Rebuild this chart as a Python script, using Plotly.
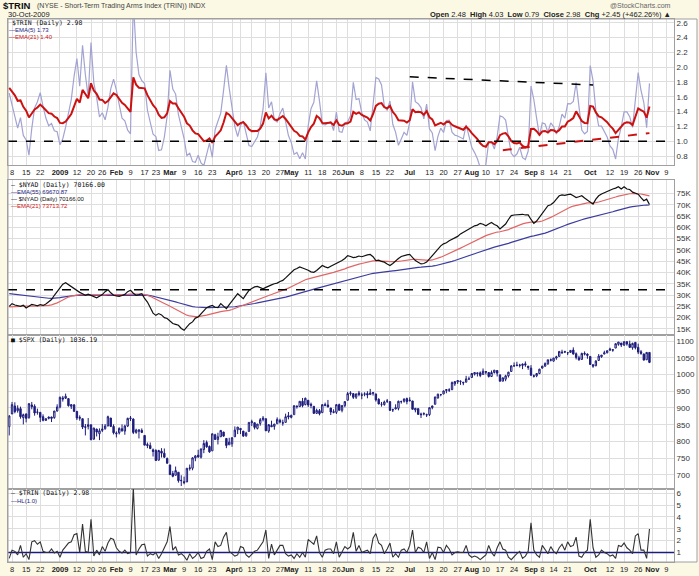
import plotly.graph_objects as go

# ---------------- data (trading-day index 0 = 5-Dec-2008 ... 227 = 30-Oct-2009) ----------------
tick_idx = [1, 6, 11, 18, 24, 29, 33, 38, 43, 48, 52, 57, 62, 67, 72, 79, 82, 86, 91, 96,
            100, 106, 111, 116, 120, 125, 130, 135, 142, 149, 154, 159, 164, 169, 174, 179,
            185, 189, 193, 198, 206, 213, 218, 223, 228, 233]
tick_txt = ["8", "15", "22", "<b>2009</b>", "12", "20", "26", "<b>Feb</b>", "9", "17", "23",
            "<b>Mar</b>", "9", "16", "23", "<b>Apr</b>", "6", "13", "20", "27", "<b>May</b>",
            "11", "18", "26", "<b>Jun</b>", "8", "15", "22", "<b>Jul</b>", "13", "20", "27",
            "<b>Aug</b>", "10", "17", "24", "<b>Sep</b>", "8", "14", "21", "<b>Oct</b>", "12",
            "19", "26", "<b>Nov</b>", "9"]

trin = [0.5, 1.2, 1.1, 0.8, 1.6, 0.6, 0.9, 0.4, 1.9, 2.0,
        1.7, 1.9, 1.1, 1.0, 1.0, 1.3, 0.95, 1.1, 0.6, 1.2,
        1.5, 1.8, 1.9, 2.5, 2.6, 1.0, 3.4, 1.1, 1.0, 3.8,
        0.7, 1.2, 0.8, 1.5, 1.1, 1.8, 2.2, 2.1, 1.4, 1.1,
        0.95, 1.2, 0.9, 1.0, 6.5, 0.8, 1.3, 1.65, 1.7, 0.7,
        0.9, 0.8, 1.0, 0.5, 0.9, 1.4, 1.9, 3.2, 1.2, 1.5,
        0.8, 0.9, 0.7, 0.35, 0.9, 0.5, 0.7, 1.0, 0.5, 0.6,
        1.1, 1.3, 0.4, 1.9, 1.5, 1.6, 2.3, 2.7, 1.1, 0.9,
        0.7, 0.8, 1.5, 1.4, 0.8, 0.6, 0.9, 1.1, 1.2, 1.5,
        1.9, 2.9, 0.5, 1.7, 0.8, 1.2, 1.6, 1.6, 0.9, 0.7,
        0.8, 0.5, 0.9, 0.6, 1.0, 0.6, 2.1, 1.9, 1.7, 2.4,
        1.0, 0.6, 1.2, 1.3, 1.3, 0.9, 1.9, 0.6, 1.1, 1.5,
        1.3, 1.5, 2.7, 1.1, 1.6, 1.0, 1.1, 1.2, 0.9, 2.2,
        2.6, 1.8, 1.6, 0.9, 1.3, 1.8, 0.6, 0.9, 0.6, 1.2,
        1.3, 1.0, 1.6, 2.9, 1.0, 1.45, 1.35, 1.0, 1.9, 0.5,
        1.0, 0.4, 1.45, 1.4, 1.0, 1.6, 1.3, 0.8, 1.0, 1.05,
        1.0, 1.0, 1.6, 0.8, 0.6, 0.7, 0.6, 0.4, 0.6, 0.8,
        1.6, 1.0, 0.7, 1.4, 1.9, 1.3, 1.2, 0.6, 0.4, 0.7,
        0.9, 1.1, 0.5, 0.7, 1.1, 3.5, 1.2, 0.8, 0.6, 1.6,
        1.2, 0.9, 1.5, 1.1, 0.9, 1.4, 1.7, 1.2, 1.9, 1.5,
        1.6, 2.3, 0.7, 0.6, 1.0, 1.2, 3.8, 1.4, 0.6, 0.8,
        1.2, 1.0, 0.9, 0.7, 0.8, 0.5, 1.6, 1.5, 1.8, 1.4,
        1.2, 0.9, 2.4, 2.6, 1.2, 1.2, 0.5, 2.98]

nyad_k = [25.0, 26.2, 25.6, 25.3, 25.0, 25.5, 24.3, 25.0, 25.9, 25.6,
          25.2, 25.8, 25.4, 26.0, 26.9, 28.0, 29.9, 31.5, 33.5, 34.8,
          35.5, 34.6, 33.8, 33.0, 32.1, 31.2, 30.6, 29.9, 30.4, 29.9,
          29.3, 28.8, 29.5, 30.2, 31.5, 32.4, 31.0, 29.9, 29.6, 29.4,
          29.8, 30.3, 31.5, 32.1, 30.8, 29.9, 30.2, 30.6, 28.5, 26.9,
          24.5, 22.0, 21.0, 21.8, 21.2, 20.0, 19.6, 18.5, 17.4, 17.0,
          16.6, 15.2, 14.4, 15.9, 17.3, 18.1, 19.8, 20.3, 21.8, 23.0,
          24.4, 25.0, 25.4, 24.6, 24.4, 26.2, 25.0, 24.0, 25.8, 27.6,
          29.0, 30.6, 29.4, 28.4, 30.3, 32.1, 32.9, 33.6, 33.8, 33.2,
          32.8, 33.4, 33.8, 34.5, 35.0, 35.3, 36.0, 36.5, 37.6, 38.7,
          40.0, 41.2, 41.8, 42.5, 42.0, 41.6, 41.0, 40.3, 40.1, 40.9,
          42.0, 43.1, 42.5, 42.1, 42.8, 43.4, 43.8, 44.5, 45.3, 46.2,
          47.5, 47.1, 46.6, 46.8, 47.3, 47.0, 47.5, 47.8, 48.0, 47.0,
          45.3, 45.5, 44.9, 44.6, 43.8, 43.1, 44.0, 45.3, 46.2, 47.1,
          47.6, 47.8, 48.0, 46.5, 45.3, 44.5, 43.8, 44.0, 44.6, 46.0,
          47.5, 49.0, 50.5, 51.8, 52.7, 53.2, 54.1, 54.8, 55.6, 56.0,
          57.1, 57.8, 58.6, 59.3, 60.0, 60.7, 61.0, 61.8, 61.4, 60.7,
          61.5, 62.2, 61.3, 60.7, 59.3, 60.5, 61.5, 63.5, 65.2, 65.5,
          65.6, 65.9, 65.8, 65.5, 65.5, 63.5, 61.8, 62.8, 64.4, 66.0,
          67.8, 69.6, 70.0, 71.0, 72.5, 74.0, 74.4, 74.2, 74.5, 74.7,
          74.0, 73.2, 73.6, 74.0, 73.0, 72.1, 71.0, 70.3, 72.5, 74.0,
          74.8, 75.4, 76.0, 76.5, 77.0, 77.4, 78.0, 77.0, 78.0, 77.0,
          76.8, 75.6, 75.0, 74.7, 73.2, 71.8, 72.5, 70.166]

spx_open = [844, 882, 906, 892, 898, 871, 882, 871, 909, 905, 887, 887, 874, 863, 869, 873, 871, 891,
            903, 930, 929, 928, 905, 909, 890, 869, 868, 842, 845, 850, 807, 837, 823, 833, 838, 846, 870, 845,
            823, 826, 838, 831, 846, 868, 867, 827, 830, 833, 818, 791, 788, 775, 773, 744, 771, 765, 749,
            730, 704, 699, 708, 684, 680, 679, 719, 720, 751, 759, 753, 776, 797, 785, 772, 820, 806, 814, 828, 809, 790,
            793, 814, 835, 839, 831, 817, 830, 856, 856, 839, 854, 865, 868, 831, 848, 845, 853, 863, 856, 857, 877,
            872, 880, 906, 904, 920, 910, 923, 911, 905, 884, 892, 886, 910, 909, 900, 889, 887, 910, 893, 907,
            923, 943, 943, 932, 945, 938, 941, 943, 940, 943, 942, 926, 911, 910, 920, 919, 894, 897, 899, 919, 920, 928,
            921, 921, 894, 898, 882, 882, 880, 880, 901, 911, 930, 940, 942, 952, 953, 955, 972, 978, 979, 977, 977, 986,
            991, 1001, 1005, 1005, 1000, 1009, 1006, 994, 1006, 1012, 999, 980, 986, 996, 1009, 1026, 1026, 1027, 1027, 1032, 1025,
            1019, 996, 996, 1003, 1019, 1025, 1032, 1044, 1040, 1049, 1054, 1067, 1067, 1065, 1066, 1073, 1062, 1050, 1045, 1063, 1061,
            1054, 1029, 1026, 1042, 1053, 1061, 1065, 1072, 1074, 1079, 1090, 1094, 1088, 1098, 1091, 1080, 1096, 1081, 1068, 1061, 1044, 1066]
spx_high = [879, 918, 917, 908, 904, 883, 884, 914, 918, 911, 898, 887, 881, 869, 874, 874, 891, 911,
            934, 936, 943, 928, 911, 912, 890, 878, 868, 852, 870, 850, 841, 838, 839, 852, 852, 877, 870, 851,
            830, 842, 851, 850, 871, 876, 869, 838, 835, 839, 818, 797, 797, 779, 777, 775, 780, 779, 752,
            730, 712, 725, 708, 699, 695, 720, 731, 753, 759, 775, 778, 804, 803, 788, 823, 823, 826, 833, 829, 809, 811,
            813, 845, 843, 839, 831, 829, 857, 865, 856, 852, 870, 876, 868, 852, 862, 852, 872, 868, 865, 883, 888,
            880, 907, 907, 920, 930, 931, 923, 916, 905, 898, 897, 910, 916, 924, 900, 896, 911, 913, 909, 920,
            948, 950, 943, 943, 951, 946, 947, 950, 957, 947, 942, 929, 918, 922, 927, 919, 898, 911, 922, 922, 928, 931,
            932, 921, 899, 899, 886, 887, 883, 901, 907, 933, 943, 942, 952, 956, 959, 979, 979, 983, 982, 977, 996, 994,
            1004, 1006, 1006, 1009, 1018, 1010, 1006, 1012, 1013, 1012, 999, 991, 999, 1008, 1027, 1036, 1038, 1032, 1033, 1039, 1025,
            1028, 1000, 1004, 1017, 1026, 1036, 1044, 1048, 1050, 1056, 1069, 1074, 1071, 1067, 1073, 1081, 1066, 1056, 1065, 1069, 1063,
            1054, 1031, 1043, 1061, 1058, 1071, 1072, 1080, 1076, 1093, 1097, 1094, 1099, 1099, 1101, 1095, 1096, 1092, 1073, 1063, 1066, 1066]
spx_low = [818, 882, 884, 886, 868, 851, 857, 868, 896, 877, 880, 858, 860, 861, 866, 858, 868, 889,
           899, 919, 927, 904, 897, 888, 864, 862, 837, 818, 836, 804, 805, 815, 804, 828, 835, 846, 843, 821,
           812, 821, 829, 820, 843, 861, 822, 823, 809, 825, 789, 780, 777, 755, 742, 744, 752, 751, 734,
           700, 693, 699, 677, 667, 672, 679, 713, 714, 741, 751, 749, 765, 781, 766, 772, 805, 791, 814, 814, 780, 790,
           784, 814, 822, 822, 814, 814, 830, 846, 836, 836, 847, 860, 831, 826, 843, 835, 853, 854, 847, 857, 866,
           869, 880, 898, 903, 902, 908, 903, 899, 882, 882, 878, 886, 905, 902, 879, 884, 882, 893, 887, 902,
           923, 937, 927, 927, 935, 926, 935, 929, 940, 937, 919, 911, 904, 907, 915, 891, 888, 896, 893, 913, 916, 911,
           920, 896, 887, 879, 870, 878, 873, 876, 896, 911, 928, 935, 941, 944, 948, 953, 966, 972, 969, 968, 977, 985,
           991, 997, 994, 992, 1000, 1000, 991, 993, 1003, 994, 979, 980, 980, 991, 1009, 1023, 1026, 1021, 1016, 1023, 1014,
           996, 991, 992, 1001, 1018, 1023, 1029, 1039, 1038, 1044, 1054, 1062, 1064, 1058, 1066, 1060, 1045, 1041, 1045, 1057, 1047,
           1029, 1020, 1025, 1042, 1050, 1061, 1063, 1072, 1068, 1079, 1086, 1082, 1085, 1086, 1080, 1074, 1075, 1061, 1059, 1042, 1044, 1034]
spx_close = [876, 910, 889, 899, 874, 880, 869, 913, 904, 885, 888, 872, 863, 868, 873, 869, 891, 903,
             932, 927, 935, 907, 910, 890, 870, 872, 843, 844, 850, 805, 840, 828, 832, 837, 846, 874, 845, 826,
             825, 839, 832, 846, 869, 870, 827, 834, 835, 827, 789, 788, 779, 770, 743, 773, 765, 753, 735,
             701, 696, 713, 683, 683, 677, 720, 721, 751, 757, 754, 778, 794, 784, 769, 823, 806, 814, 833, 816, 788, 798,
             811, 834, 843, 835, 816, 825, 857, 859, 842, 852, 865, 870, 832, 850, 844, 852, 866, 858, 855, 874, 873,
             878, 907, 904, 920, 907, 929, 909, 908, 884, 893, 883, 910, 908, 903, 888, 887, 910, 893, 907, 919,
             943, 945, 932, 942, 940, 939, 942, 939, 945, 946, 924, 912, 911, 918, 921, 893, 895, 901, 920, 919, 927, 919,
             923, 896, 899, 881, 880, 883, 879, 901, 906, 933, 941, 940, 951, 955, 954, 976, 979, 982, 980, 975, 987, 987,
             1003, 1006, 1003, 997, 1010, 1007, 994, 1006, 1013, 1004, 980, 990, 996, 1007, 1026, 1026, 1028, 1028, 1031, 1029, 1021,
             998, 995, 1003, 1016, 1025, 1033, 1044, 1043, 1049, 1053, 1069, 1065, 1068, 1065, 1072, 1061, 1051, 1044, 1063, 1061, 1057,
             1030, 1025, 1040, 1055, 1058, 1065, 1071, 1076, 1073, 1092, 1097, 1088, 1098, 1091, 1081, 1093, 1080, 1067, 1063, 1043, 1066, 1036.19]

# EMA starting values at the first visible session
seed_trin_ema5, seed_trin_ema21 = 1.65, 1.72
seed_nyad_ema21, seed_nyad_ema55 = 24.8, 30.6

# user-drawn trend lines (trading-day index, value)
trin_trend_black_x, trin_trend_black_y = [142, 207], [1.87, 1.76]
trin_trend_red_x, trin_trend_red_y = [175, 227], [0.88, 1.11]
trin_level = 1.0
nyad_level_k = 32.4


def ema(values, n, seed):
    a = 2.0 / (n + 1)
    out = [seed]
    for v in values[1:]:
        out.append(out[-1] + a * (v - out[-1]))
    return out


idx = list(range(len(trin)))
trin_ema5 = ema(trin, 5, seed_trin_ema5)
trin_ema21 = ema(trin, 21, seed_trin_ema21)
nyad_ema21 = ema(nyad_k, 21, seed_nyad_ema21)
nyad_ema55 = ema(nyad_k, 55, seed_nyad_ema55)

# ---------------- figure ----------------
W, H = 699, 576
CREAM = "#fbf8e4"
GRID = "#dedede"
FRAME = "#a0a0a0"
NAVY = "#1c1c7c"
FONT = "Liberation Sans, Arial, sans-serif"
MONO = "DejaVu Sans Mono, monospace"


def ydom(top, bot):
    return [1 - bot / H, 1 - top / H]


P = {1: (19, 165), 2: (180, 335), 3: (335, 489), 4: (489, 562)}
xdom = [8 / W, 674 / W]
xr = [-0.43, 235.7]

fig = go.Figure()
fig.add_trace(go.Scatter(x=idx, y=trin_ema5, mode="lines", line=dict(color="#a3a3d3", width=1.2),
                         xaxis="x", yaxis="y", hoverinfo="skip"))
fig.add_trace(go.Scatter(x=idx, y=trin_ema21, mode="lines", line=dict(color="#cc1111", width=2),
                         xaxis="x", yaxis="y", hoverinfo="skip"))
fig.add_trace(go.Scatter(x=trin_trend_black_x, y=trin_trend_black_y, mode="lines",
                         line=dict(color="black", width=1.5, dash="dash"), xaxis="x", yaxis="y"))
fig.add_trace(go.Scatter(x=trin_trend_red_x, y=trin_trend_red_y, mode="lines",
                         line=dict(color="#cc1111", width=2, dash="dash"), xaxis="x", yaxis="y"))

fig.add_trace(go.Scatter(x=idx, y=nyad_ema55, mode="lines", line=dict(color="#3c3ca0", width=1.2),
                         xaxis="x2", yaxis="y2"))
fig.add_trace(go.Scatter(x=idx, y=nyad_ema21, mode="lines", line=dict(color="#e06666", width=1.2),
                         xaxis="x2", yaxis="y2"))
fig.add_trace(go.Scatter(x=idx, y=nyad_k, mode="lines", line=dict(color="#111111", width=1.2),
                         xaxis="x2", yaxis="y2"))

fig.add_trace(go.Candlestick(x=idx, open=spx_open, high=spx_high, low=spx_low, close=spx_close,
                             xaxis="x3", yaxis="y3", whiskerwidth=0,
                             increasing=dict(line=dict(color=NAVY, width=1), fillcolor="white"),
                             decreasing=dict(line=dict(color=NAVY, width=1), fillcolor=NAVY)))

fig.add_trace(go.Scatter(x=[xr[0], xr[1]], y=[trin_level, trin_level], mode="lines",
                         line=dict(color=NAVY, width=1.5), xaxis="x4", yaxis="y4"))
fig.add_trace(go.Scatter(x=idx, y=trin, mode="lines", line=dict(color="#333333", width=1.1),
                         xaxis="x4", yaxis="y4"))

shapes = [
    dict(type="rect", xref="paper", yref="paper", x0=8 / W, x1=697 / W, y0=1 - 562 / H, y1=1 - 19 / H,
         fillcolor="white", line=dict(width=0), layer="below"),
    dict(type="line", xref="x domain", yref="y", x0=0, x1=1, y0=trin_level, y1=trin_level,
         line=dict(color="black", width=1.5, dash="dash")),
    dict(type="line", xref="x2 domain", yref="y2", x0=0, x1=1, y0=nyad_level_k, y1=nyad_level_k,
         line=dict(color="black", width=1.5, dash="dash")),
    dict(type="rect", xref="paper", yref="paper", x0=8 / W, x1=697 / W, y0=1 - 562 / H, y1=1 - 19 / H,
         fillcolor="rgba(0,0,0,0)", line=dict(color=FRAME, width=1)),
]

xbase = dict(range=xr, domain=xdom, tickvals=tick_idx, ticktext=tick_txt, showgrid=True,
             gridcolor=GRID, gridwidth=1, zeroline=False, showline=True, linecolor=FRAME,
             mirror=True, ticks="", tickangle=0, tickfont=dict(size=7.5, color="#222", family=FONT),
             rangeslider=dict(visible=False), fixedrange=True)


def ybase(n, rng, vals, txt):
    return dict(domain=ydom(*P[n]), range=rng, side="right", tickvals=vals, ticktext=txt,
                showgrid=True, gridcolor=GRID, zeroline=False, showline=True, linecolor=FRAME,
                mirror=True, ticks="", tickfont=dict(size=8, color="#333", family=FONT),
                anchor="x" if n == 1 else "x%d" % n, fixedrange=True)


y1v = [0.8, 1.0, 1.2, 1.4, 1.6, 1.8, 2.0, 2.2, 2.4, 2.6]
y2v = list(range(15, 80, 5))
y3v = list(range(700, 1101, 50))
y4v = [1, 2, 3, 4, 5, 6]

layout = dict(
    width=W, height=H, margin=dict(l=0, r=0, t=0, b=0), paper_bgcolor=CREAM, plot_bgcolor="white",
    showlegend=False, font=dict(family=FONT, size=8, color="#222"),
    xaxis=dict(xbase, anchor="y", showticklabels=True),
    xaxis2=dict(xbase, anchor="y2", showticklabels=False),
    xaxis3=dict(xbase, anchor="y3", showticklabels=False),
    xaxis4=dict(xbase, anchor="y4", showticklabels=True),
    yaxis=ybase(1, [0.68, 2.65], y1v, ["%.1f" % v for v in y1v]),
    yaxis2=ybase(2, [12.3, 81.0], y2v, ["%dK" % v for v in y2v]),
    yaxis3=ybase(3, [658, 1118], y3v, [str(v) for v in y3v]),
    yaxis4=ybase(4, [0.2, 6.36], y4v, [str(v) for v in y4v]),
    shapes=shapes,
)
fig.update_layout(layout)


def txt(x, y, s, size=8, color="#222", family=FONT, anchor="left"):
    fig.add_annotation(x=x / W, y=1 - y / H, xref="paper", yref="paper", text=s, showarrow=False,
                       xanchor=anchor, yanchor="middle", font=dict(size=size, color=color, family=family))


# header
txt(1, 6, "<b>$TRIN</b>", size=9.5, color="#111")
txt(35, 6, "(NYSE - Short-Term Trading Arms Index (TRIN)) INDX", size=7, color="#444")
txt(6, 14, "30-Oct-2009", size=7.5, color="#222")
txt(673, 5, "@StockCharts.com", size=7, color="#666", anchor="right")
txt(673, 15, "<b>Open</b> 2.48  <b>High</b> 4.03  <b>Low</b> 0.79  <b>Close</b> 2.98  <b>Chg</b> +2.45 (+462.26%) ▲",
    size=7.5, color="#222", anchor="right")

# panel legends
txt(10, 23, "$TRIN (Daily) 2.98", size=6.5, color="#111", family=MONO)
txt(7, 30, "—EMA(5) 1.73", size=6, color="#1c1c7c")
txt(7, 37, "—EMA(21) 1.40", size=6, color="#cc1111")

txt(9, 185, "— $NYAD (Daily) 70166.00", size=6.5, color="#111", family=MONO)
txt(9, 192, "—EMA(55) 69670.87", size=6, color="#1c1c7c")
txt(9, 199, "— $NYAD (Daily) 70166.00", size=6, color="#111")
txt(9, 206, "—EMA(21) 73713.72", size=6, color="#cc1111")

txt(9, 340, "■ $SPX (Daily) 1036.19", size=6.5, color="#111", family=MONO)

txt(9, 493, "— $TRIN (Daily) 2.98", size=6.5, color="#111", family=MONO)
txt(9, 501, "—HL(1.0)", size=6, color="#1c1c7c")

fig.write_html("out.html")
